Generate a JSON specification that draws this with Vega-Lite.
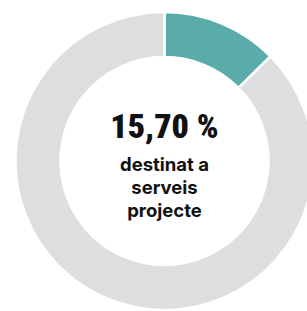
{
  "$schema": "https://vega.github.io/schema/vega-lite/v6.json",
  "width": 329,
  "height": 322,
  "padding": 0,
  "autosize": {"type": "none"},
  "background": "white",
  "config": {"view": {"stroke": null}},
  "data": {"values": [
    {"categoria": "serveis projecte", "valor": 12.6, "ordre": 1},
    {"categoria": "resta", "valor": 87.4, "ordre": 2}
  ]},
  "layer": [
    {
      "mark": {"type": "arc", "outerRadius": 149, "innerRadius": 104, "stroke": "white", "strokeWidth": 2.5},
      "encoding": {
        "theta": {"field": "valor", "type": "quantitative", "stack": true},
        "order": {"field": "ordre", "type": "quantitative"},
        "color": {"field": "categoria", "type": "nominal", "scale": {"domain": ["serveis projecte", "resta"], "range": ["#5aacab", "#dddedf"]}, "legend": null}
      }
    },
    {
      "data": {"values": [{"t": "15,70 %"}]},
      "mark": {"type": "text", "font": "Roboto Condensed", "fontWeight": 900, "fontSize": 34, "align": "center", "baseline": "alphabetic", "dy": -23, "color": "#111111"},
      "encoding": {"text": {"field": "t"}}
    },
    {
      "data": {"values": [{"t": ["destinat a", "serveis", "projecte"]}]},
      "mark": {"type": "text", "font": "Inter", "fontWeight": "bold", "fontSize": 18.5, "lineHeight": 23, "align": "center", "baseline": "alphabetic", "dy": 10, "color": "#111111"},
      "encoding": {"text": {"field": "t"}}
    }
  ]
}
